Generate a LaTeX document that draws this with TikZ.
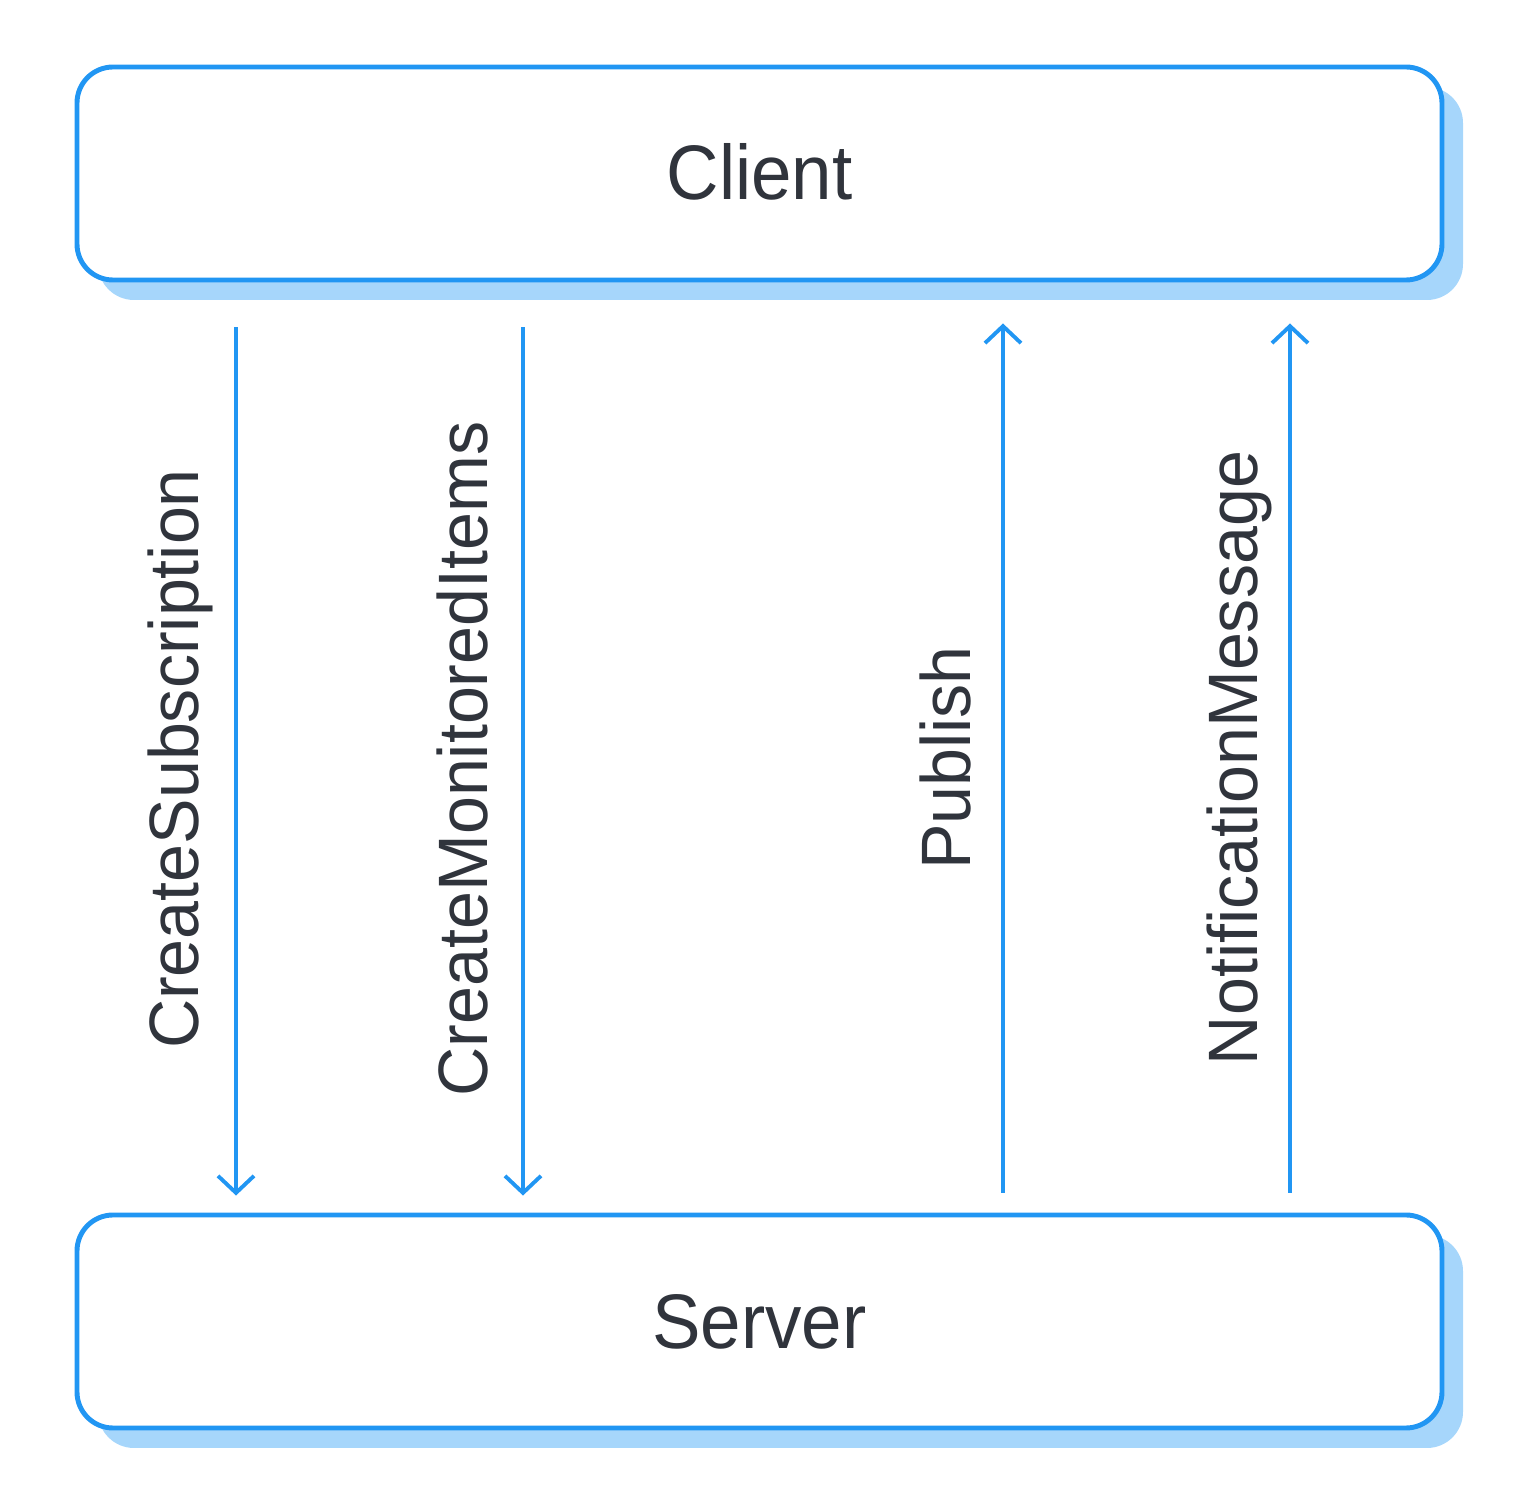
\documentclass[tikz,border=0pt]{standalone}
\usepackage{fontspec}
\setmainfont{Liberation Sans}[FakeStretch=0.94]
\newfontfamily\lblfont{Liberation Sans}[FakeStretch=0.975]
\usetikzlibrary{arrows.meta,shadows,calc}
\definecolor{lineblue}{HTML}{2196F3}
\definecolor{shadowblue}{HTML}{A6D6FB}
\definecolor{textgray}{HTML}{30343C}
\begin{document}
\begin{tikzpicture}[
  box/.style={draw=lineblue, line width=1.4pt, fill=white, rounded corners=0.36cm,
    minimum width=13.65cm, minimum height=2.13cm, inner sep=0pt,
    text=textgray, font=\fontsize{22pt}{26pt}\selectfont,
    general shadow={shadow xshift=0.21cm, shadow yshift=-0.20cm, fill=shadowblue, draw=none}},
  arr/.style={draw=lineblue, line width=1.1pt, -{Straight Barb[length=0.17cm, width=0.36cm, line width=1.1pt]}},
  lbl/.style={rotate=90, anchor=base, inner sep=0pt, text=textgray, font=\lblfont\fontsize{19.9pt}{24pt}\selectfont}
]
\useasboundingbox (0,0) rectangle (15.2,-14.96);
\node[box] (client) at (7.595,-1.735) {\raisebox{0.04cm}{Client}};
\node[box] (server) at (7.595,-13.215) {Server};

\coordinate (x1) at (2.36,0);
\coordinate (x2) at (5.23,0);
\coordinate (x3) at (10.03,0);
\coordinate (x4) at (12.90,0);

\draw[arr, shorten <=0.45cm, shorten >=0.17cm] (client.south -| x1) -- (server.north -| x1);
\draw[arr, shorten <=0.45cm, shorten >=0.17cm] (client.south -| x2) -- (server.north -| x2);
\draw[arr, shorten <=0.20cm, shorten >=0.41cm] (server.north -| x3) -- (client.south -| x3);
\draw[arr, shorten <=0.20cm, shorten >=0.41cm] (server.north -| x4) -- (client.south -| x4);

\node[lbl] (l1) at (1.98,-7.59) {CreateSubscription};
\node[lbl] (l2) at (4.87,-7.59) {CreateMonitoredItems};
\node[lbl] (l3) at (9.70,-7.58) {Publish};
\node[lbl] (l4) at (12.57,-7.58) {NotificationMessage};
\end{tikzpicture}
\end{document}
